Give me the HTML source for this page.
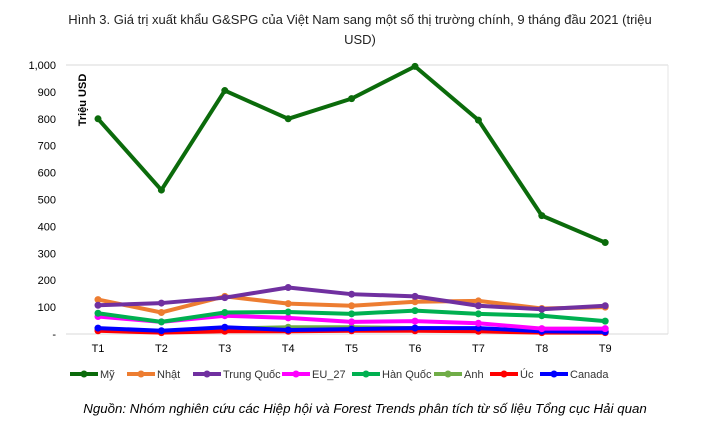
<!DOCTYPE html>
<html><head><meta charset="utf-8"><style>
body{margin:0;background:#fff;width:721px;height:436px;overflow:hidden;font-family:"Liberation Sans",sans-serif}
</style></head><body>
<svg width="721" height="436" id="c" font-family="Liberation Sans, sans-serif">
<text x="360" y="24" text-anchor="middle" font-size="13" fill="#222">Hình 3. Giá trị xuất khẩu G&amp;SPG của Việt Nam sang một số thị trường chính, 9 tháng đầu 2021 (triệu</text>
<text x="360" y="44" text-anchor="middle" font-size="13" fill="#222">USD)</text>
<line x1="66" y1="65" x2="668" y2="65" stroke="#d9d9d9"/>
<line x1="668" y1="65" x2="668" y2="334" stroke="#e6e6e6"/>
<text transform="translate(86,100) rotate(-90)" text-anchor="middle" font-size="11" font-weight="bold" fill="#000">Triệu USD</text>
<text x="365" y="413" text-anchor="middle" font-size="13.3" font-style="italic" fill="#000">Nguồn: Nhóm nghiên cứu các Hiệp hội và Forest Trends phân tích từ số liệu  Tổng cục Hải quan</text>
<g id="plot"></g>
</svg>
<script>
const categories=["T1","T2","T3","T4","T5","T6","T7","T8","T9"];
const yTicks=[0,100,200,300,400,500,600,700,800,900,1000];
const seriesNames=["Mỹ","Nhật","Trung Quốc","EU_27","Hàn Quốc","Anh","Úc","Canada"];
const seriesColors=["#0b6b0b","#ed7d31","#7030a0","#ff00ff","#00b050","#70ad47","#ff0000","#0000ff"];
const my=[800,535,905,800,875,995,795,440,340];
const nhat=[128,80,140,113,105,120,123,95,100];
const trungQuoc=[107,115,135,173,148,140,105,92,105];
const eu27=[65,45,68,60,45,48,40,20,20];
const hanQuoc=[77,45,80,82,75,87,75,68,48];
const anh=[20,10,20,25,25,22,20,10,10];
const uc=[12,5,10,10,12,12,10,5,5];
const canada=[22,12,25,15,18,22,22,10,8];
const allSeries=[my,nhat,trungQuoc,eu27,hanQuoc,anh,uc,canada];
const NS="http://www.w3.org/2000/svg";
const g=document.getElementById('plot');
const x=i=>98+i*63.4;
const y=v=>334-v*0.269;
function mk(t,a){const e=document.createElementNS(NS,t);for(const k in a)e.setAttribute(k,a[k]);g.appendChild(e);return e;}
yTicks.forEach(v=>{
 const t=mk('text',{x:56,y:y(v)+4,'text-anchor':'end','font-size':11,fill:'#000'});
 t.textContent=v===0?'-':v.toLocaleString('en-US');
 
 
});
const base=mk('line',{x1:66,y1:334,x2:668,y2:334,stroke:'#d9d9d9'});


categories.forEach((c,i)=>{
 const t=mk('text',{x:x(i),y:352,'text-anchor':'middle','font-size':11,fill:'#000'});
 t.textContent=c;
 
 
});
const order=[5,6,7,3,4,1,2,0];
order.forEach(s=>{
 const d=allSeries[s];
 const p=mk('polyline',{points:d.map((v,i)=>x(i)+','+y(v)).join(' '),fill:'none',stroke:seriesColors[s],'stroke-width':4,'stroke-linejoin':'round'});
 
 
 d.forEach((v,i)=>{
  const c=mk('circle',{cx:x(i),cy:y(v),r:3.5,fill:seriesColors[s]});
  
  
 });
});
const legX=[70,127,193,282,352,434,490,540];
seriesNames.forEach((n,s)=>{
 const l=mk('line',{x1:legX[s],y1:374,x2:legX[s]+28,y2:374,stroke:seriesColors[s],'stroke-width':4});
 
 
 const c=mk('circle',{cx:legX[s]+14,cy:374,r:3.5,fill:seriesColors[s]});
 
 
 const t=mk('text',{x:legX[s]+30,y:378,'font-size':11,fill:'#333'});
 t.textContent=n;
 
 
});
</script>
</body></html>
